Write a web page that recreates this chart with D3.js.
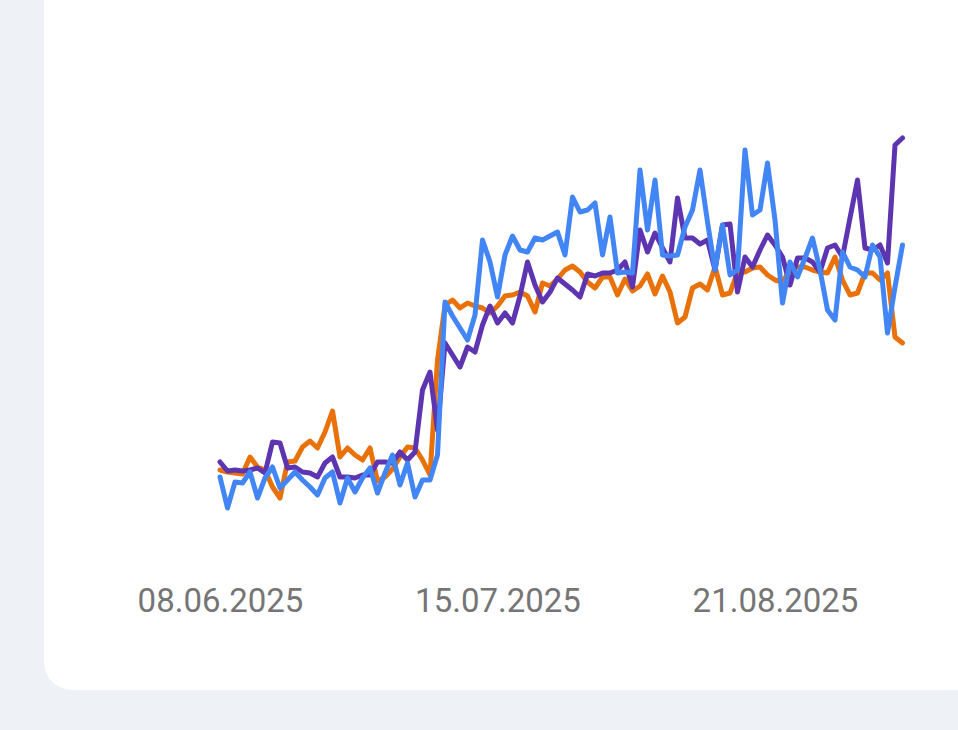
<!DOCTYPE html>
<html>
<head>
<meta charset="utf-8">
<script src="https://cdn.jsdelivr.net/npm/d3@7"></script>
<style>
  html, body { margin: 0; padding: 0; background: #eef2f7; }
  svg { display: block; }
</style>
</head>
<body>
<svg id="chart" width="958" height="730"></svg>
<script>
const startDate = "2025-06-08";
const tickLabels = ["08.06.2025", "15.07.2025", "21.08.2025"];
const tickDates = ["2025-06-08", "2025-07-15", "2025-08-21"];

const seriesNames = ["orange", "purple", "blue"];
const orangeValues = [50,48,47,46,63,53,50,33,22,58,
  59,73,79,72,88,109,63,72,65,60,
  72,39,43,51,63,73,72,60,45,160,
  215,220,212,217,214,212,207,214,224,225,
  228,224,208,237,234,241,250,254,248,238,
  232,243,243,225,241,229,234,246,226,244,
  228,197,203,232,236,230,253,225,227,248,
  248,252,253,245,240,238,250,253,253,250,
  248,247,263,240,225,227,247,247,240,247,
  183,177];
const purpleValues = [58,49,50,49,50,52,47,78,77,52,
  53,48,47,43,57,63,43,43,42,45,
  45,58,58,57,68,60,68,130,148,90,
  177,165,153,173,168,195,214,197,207,197,
  224,258,235,218,228,242,236,230,223,246,
  244,247,247,250,258,233,290,268,287,272,
  258,322,282,282,276,280,250,295,296,228,
  263,253,270,285,275,263,235,262,262,258,
  248,272,275,263,302,340,272,270,275,257,
  375,382];
const blueValues = [43,12,38,37,48,22,42,53,32,40,
  48,40,33,25,42,48,17,42,28,42,
  52,27,47,65,35,57,23,40,40,65,
  218,204,192,180,205,280,258,223,265,284,
  270,268,282,280,284,288,265,323,308,310,
  317,265,303,247,248,247,350,290,340,265,
  264,265,293,310,350,298,250,295,245,250,
  370,305,310,357,300,217,258,243,262,282,
  250,210,200,268,253,250,243,275,263,187,
  233,275];

const colors = { orange: "#e8710a", purple: "#5e35b1", blue: "#4285f4" };
const seriesValues = { orange: orangeValues, purple: purpleValues, blue: blueValues };

const parse = d3.timeParse("%Y-%m-%d");
const t0 = parse(startDate);
const dates = orangeValues.map((_, i) => d3.timeDay.offset(t0, i));

const svg = d3.select("#chart");

// card
svg.append("rect")
  .attr("x", 44).attr("y", -40)
  .attr("width", 1000).attr("height", 730)
  .attr("rx", 28).attr("ry", 28)
  .attr("fill", "#ffffff");

const x = d3.scaleTime()
  .domain([dates[0], dates[dates.length - 1]])
  .range([220, 902.5]);
const y = d3.scaleLinear().domain([0, 400]).range([520, 120]);

const line = d3.line()
  .x((d, i) => x(dates[i]))
  .y(d => y(d));

seriesNames.forEach(name => {
  svg.append("path")
    .datum(seriesValues[name])
    .attr("d", line)
    .attr("fill", "none")
    .attr("stroke", colors[name])
    .attr("stroke-width", 5)
    .attr("stroke-linejoin", "round")
    .attr("stroke-linecap", "round");
});

const axis = d3.axisBottom(x)
  .tickValues(tickDates.map(parse))
  .tickFormat((d, i) => tickLabels[i])
  .tickSize(0)
  .tickPadding(0);

const g = svg.append("g").attr("transform", "translate(0,580)").call(axis);
g.select(".domain").remove();
g.selectAll("text")
  .attr("dy", "0")
  .attr("y", 32)
  .attr("fill", "#757575")
  .style("font-family", "Roboto, sans-serif")
  .style("font-size", "33px");
</script>
</body>
</html>
